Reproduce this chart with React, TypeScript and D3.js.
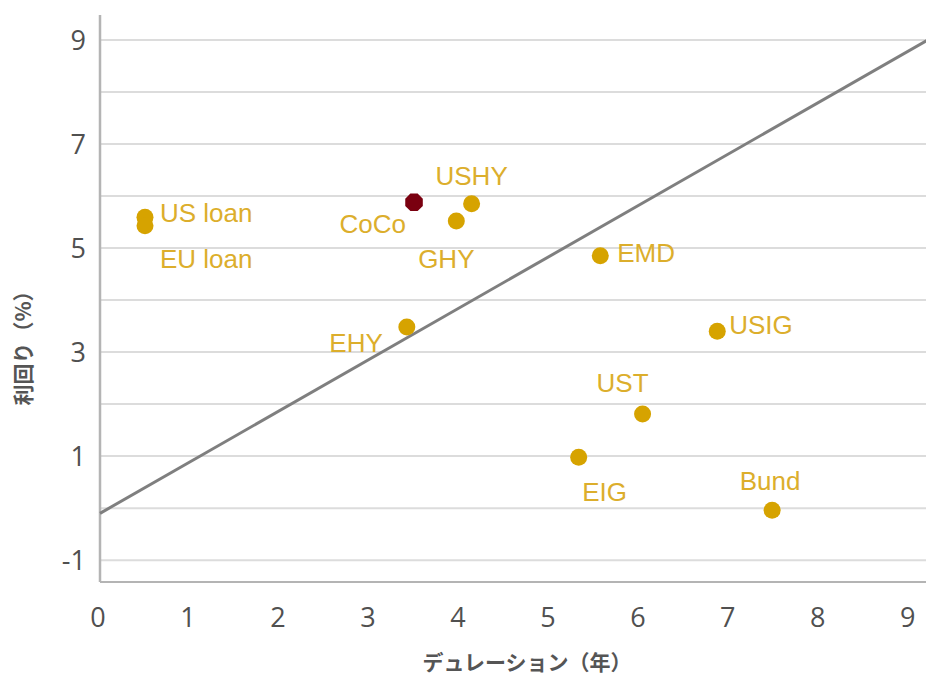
import React from "react";
import * as d3 from "d3";

const names = ["US loan", "EU loan", "CoCo", "USHY", "GHY", "EMD", "EHY", "USIG", "UST", "EIG", "Bund"];
const duration = [0.5, 0.5, 3.49, 4.13, 3.96, 5.56, 3.41, 6.86, 6.03, 5.32, 7.47];
const yieldPct = [5.59, 5.43, 5.88, 5.85, 5.52, 4.85, 3.48, 3.4, 1.81, 0.98, -0.04];
const highlight = ["CoCo"];
const xTicks = [0, 1, 2, 3, 4, 5, 6, 7, 8, 9];
const yTicks = [-1, 1, 3, 5, 7, 9];
const yGrid = [-1, 0, 1, 2, 3, 4, 5, 6, 7, 8, 9];
const lineX = [0, 9.2];
const lineY = [-0.1, 9.0];

// label placement: [dx, dy, anchor]
const labelPos: Record<string, [number, number, string]> = {
  "US loan": [15, 5, "start"],
  "EU loan": [15, 42, "start"],
  CoCo: [-8, 31, "end"],
  USHY: [0, -19, "middle"],
  GHY: [-10, 47, "middle"],
  EMD: [17, 6, "start"],
  EHY: [-24, 25, "end"],
  USIG: [12, 3, "start"],
  UST: [-20, -22, "middle"],
  EIG: [26, 44, "middle"],
  Bund: [-2, -20, "middle"],
};

export default function App() {
  const W = 926, H = 677;
  const x = d3.scaleLinear().domain([0, 9.18]).range([100, 926]);
  const y = d3.scaleLinear().domain([-1.42, 9.48]).range([582, 15]);
  const line = d3.line<number>().x((_, i) => x(lineX[i])).y((_, i) => y(lineY[i]));
  const gold = "#d6a300";
  const labelGold = "#dcae2c";
  const tickFont = "'Open Sans', 'DejaVu Sans', sans-serif";
  const octagon = (cx: number, cy: number, r: number) =>
    d3.range(8)
      .map((k) => {
        const a = Math.PI / 8 + (k * Math.PI) / 4;
        return [cx + r * Math.cos(a), cy + r * Math.sin(a)].join(",");
      })
      .join(" ");
  return (
    <svg width={W} height={H} style={{ position: "fixed", left: 0, top: 0, background: "#fff" }}>
      {yGrid.map((v) => (
        <line key={v} x1={100} x2={926} y1={y(v)} y2={y(v)} stroke="#dcdcdc" strokeWidth={2} />
      ))}
      <line x1={100} x2={100} y1={15} y2={582} stroke="#b4b4b4" strokeWidth={2.5} />
      <line x1={100} x2={926} y1={582} y2={582} stroke="#b4b4b4" strokeWidth={2} />
      {yTicks.map((v) => (
        <text key={v} x={86} y={y(v)} dy="0.36em" textAnchor="end" fontSize={27} fill="#505050" fontFamily={tickFont}>
          {v}
        </text>
      ))}
      {xTicks.map((v) => (
        <text key={v} x={x(v) - 2} y={617} dy="0.36em" textAnchor="middle" fontSize={27} fill="#505050" fontFamily={tickFont}>
          {v}
        </text>
      ))}
      <path d={line(lineX) || ""} stroke="#7f7f7f" strokeWidth={3} fill="none" />
      {names.map((n, i) => {
        const cx = x(duration[i]);
        const cy = y(yieldPct[i]);
        return highlight.includes(n) ? (
          <polygon key={n} points={octagon(cx, cy, 9.5)} fill="#7a0010" />
        ) : (
          <circle key={n} cx={cx} cy={cy} r={8.5} fill={gold} />
        );
      })}
      {names.map((n, i) => {
        const [dx, dy, anchor] = labelPos[n];
        return (
          <text
            key={"l" + n}
            x={x(duration[i]) + dx}
            y={y(yieldPct[i]) + dy}
            textAnchor={anchor as any}
            fontSize={26}
            fill={labelGold}
            fontFamily="'Liberation Sans', Arial, sans-serif"
          >
            {n}
          </text>
        );
      })}
      <text
        transform={`translate(31,343) rotate(-90)`}
        textAnchor="middle"
        fontSize={21}
        fontWeight="bold"
        fill="#555"
        fontFamily="'Noto Sans CJK JP', sans-serif"
      >
        利回り（%）
      </text>
      <text x={527} y={670} textAnchor="middle" fontSize={21} fontWeight="bold" fill="#555" fontFamily="'Noto Sans CJK JP', sans-serif">
        デュレーション（年）
      </text>
    </svg>
  );
}
